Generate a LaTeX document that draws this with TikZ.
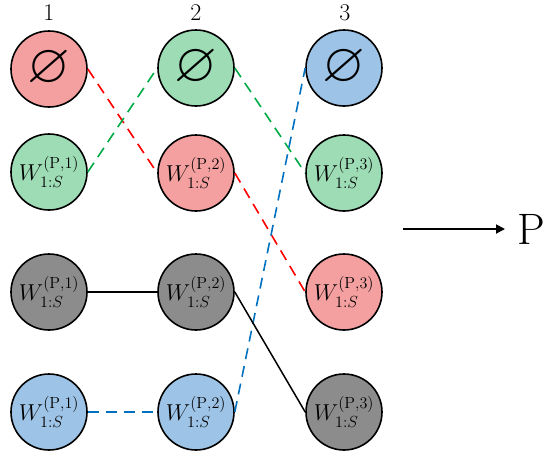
\RequirePackage{fix-cm}
\documentclass[tikz,border=0pt]{standalone}
\usepackage{amssymb}
\usetikzlibrary{arrows.meta}
\definecolor{fred}{RGB}{244,160,160}
\definecolor{fgreen}{RGB}{158,220,182}
\definecolor{fblue}{RGB}{157,195,230}
\definecolor{fgray}{RGB}{140,140,140}
\definecolor{lred}{RGB}{255,0,0}
\definecolor{lgreen}{RGB}{0,170,70}
\definecolor{lblue}{RGB}{0,112,192}
\newcommand{\wlab}[1]{\fontsize{23}{26}\selectfont$W^{(\mathrm{P},#1)}_{1{:}S}$}
\newcommand{\emp}{\fontsize{55}{56}\selectfont$\varnothing$}
\begin{document}
\begin{tikzpicture}[x=1pt,y=-1pt,
  ball/.style={circle,draw=black,line width=1.6pt,minimum size=76pt,inner sep=0pt},
  rball/.style={ball,fill=fred},
  gball/.style={ball,fill=fgreen},
  bball/.style={ball,fill=fblue},
  kball/.style={ball,fill=fgray},
  dline/.style={line width=1.6pt,dash pattern=on 11pt off 7pt},
  collab/.style={font=\fontsize{24}{26}\selectfont,inner sep=0pt}]
\useasboundingbox (0,0) rectangle (550,461);
% column labels
\node[collab] (l1) at (49,13) {1};
\node[collab] (l2) at (196,13) {2};
\node[collab] (l3) at (345,13) {3};
% column 1
\node[rball] (a1) at (49,69) {\emp};
\node[gball] (a2) at (49,172) {\wlab{1}};
\node[kball] (a3) at (49,292) {\wlab{1}};
\node[bball] (a4) at (49,412) {\wlab{1}};
% column 2
\node[gball] (b1) at (196,68) {\emp};
\node[rball] (b2) at (196,173) {\wlab{2}};
\node[kball] (b3) at (196,292) {\wlab{2}};
\node[bball] (b4) at (196,412) {\wlab{2}};
% column 3
\node[bball] (c1) at (344,68) {\emp};
\node[gball] (c2) at (344,173) {\wlab{3}};
\node[rball] (c3) at (344,292) {\wlab{3}};
\node[kball] (c4) at (344,412) {\wlab{3}};
% connectors
\draw[dline,lred] (a1.east) -- (b2.west);
\draw[dline,lred] (b2.east) -- (c3.west);
\draw[dline,lgreen] (a2.east) -- (b1.west);
\draw[dline,lgreen] (b1.east) -- (c2.west);
\draw[dline,lblue] (a4.east) -- (b4.west);
\draw[dline,lblue] (b4.east) -- (c1.west);
\draw[line width=1.5pt,black] (a3.east) -- (b3.west);
\draw[line width=1.5pt,black] (b3.east) -- (c4.west);
% arrow to P
\node[anchor=west,inner sep=0pt,font=\fontsize{44}{44}\selectfont] (P) at (517,229) {P};
\coordinate (astart) at (403,229);
\draw[line width=1.8pt,-{Triangle[length=9pt,width=9pt]},shorten >=12pt] (astart) -- (astart -| P.west);
\end{tikzpicture}
\end{document}
